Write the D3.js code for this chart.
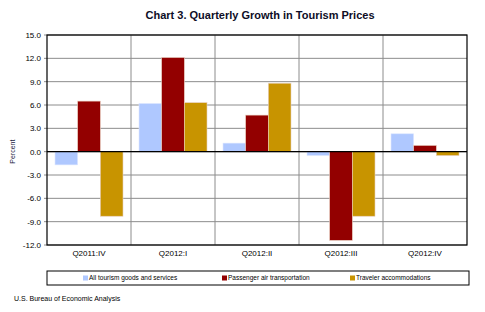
<!DOCTYPE html>
<html>
<head>
<meta charset="utf-8">
<script src="https://cdn.jsdelivr.net/npm/d3@7"></script>
<style>
	body { margin: 0; background: #fff; }
	text { font-family: "Liberation Sans", Arial, sans-serif; }
</style>
</head>
<body>
<div class="chart"></div>
<script>
const quarters = ['Q2011:IV', 'Q2012:I', 'Q2012:II', 'Q2012:III', 'Q2012:IV'];
const seriesNames = ['All tourism goods and services', 'Passenger air transportation', 'Traveler accommodations'];
const allTourism = [-1.7, 6.2, 1.1, -0.5, 2.3];
const airTransport = [6.5, 12.1, 4.7, -11.4, 0.8];
const accommodations = [-8.3, 6.3, 8.8, -8.3, -0.5];
const yTicks = [15, 12, 9, 6, 3, 0, -3, -6, -9, -12];
const colors = ['#afc8ff', '#930000', '#c89400'];

const width = 485;
const height = 312;
const plotLeft = 47, plotRight = 467, plotTop = 35, plotBottom = 245;

const svg = d3.select('.chart')
	.append('svg')
	.attr('width', width)
	.attr('height', height);

const x = d3.scaleBand().domain(quarters).range([plotLeft, plotRight]).paddingInner(0).paddingOuter(0);
const inner = d3.scaleBand().domain(d3.range(3)).range([8, 84 - 8]);
const y = d3.scaleLinear().domain([-12, 15]).range([plotBottom, plotTop]);

// grid
svg.append('g')
	.selectAll('line')
	.data(yTicks)
	.enter()
	.append('line')
	.attr('x1', plotLeft - 3)
	.attr('x2', plotRight)
	.attr('y1', d => y(d))
	.attr('y2', d => y(d))
	.style('stroke', '#8c8c8c')
	.style('stroke-width', 1);

svg.append('g')
	.selectAll('line')
	.data(quarters.slice(1))
	.enter()
	.append('line')
	.attr('x1', d => x(d))
	.attr('x2', d => x(d))
	.attr('y1', plotTop)
	.attr('y2', plotBottom)
	.style('stroke', '#8c8c8c')
	.style('stroke-width', 1);

// bars
const values = [allTourism, airTransport, accommodations];
values.forEach((vals, s) => {
	svg.append('g')
		.selectAll('rect')
		.data(vals)
		.enter()
		.append('rect')
		.attr('x', (d, i) => x(quarters[i]) + inner(s))
		.attr('y', d => Math.min(y(d), y(0)))
		.attr('width', inner.bandwidth())
		.attr('height', d => Math.abs(y(d) - y(0)))
		.style('fill', colors[s])
		.style('stroke', s === 0 ? '#dfe8ff' : '#e8d0c0')
		.style('stroke-width', 0.6);
});

// zero line and frame
svg.append('line')
	.attr('x1', plotLeft).attr('x2', plotRight)
	.attr('y1', y(0)).attr('y2', y(0))
	.style('stroke', '#000').style('stroke-width', 1.2);

svg.append('rect')
	.attr('x', plotLeft).attr('y', plotTop)
	.attr('width', plotRight - plotLeft).attr('height', plotBottom - plotTop)
	.style('fill', 'none').style('stroke', '#000').style('stroke-width', 1.2);

// y axis labels
svg.append('g')
	.selectAll('text')
	.data(yTicks)
	.enter()
	.append('text')
	.attr('x', 41)
	.attr('y', d => y(d) + 3)
	.text(d => d.toFixed(1))
	.style('font-size', '8px')
	.style('text-anchor', 'end')
	.style('fill', '#000');

svg.append('text')
	.attr('transform', 'translate(15,' + y(0) + ') rotate(-90)')
	.text('Percent')
	.style('font-size', '7px')
	.style('text-anchor', 'middle')
	.style('fill', '#1a1a40');

// category labels
svg.append('g')
	.selectAll('text')
	.data(quarters)
	.enter()
	.append('text')
	.attr('x', d => x(d) + x.bandwidth() / 2)
	.attr('y', 256)
	.text(d => d)
	.style('font-size', '8px')
	.style('text-anchor', 'middle')
	.style('fill', '#000');

// title
svg.append('text')
	.attr('x', 260)
	.attr('y', 19)
	.text('Chart 3. Quarterly Growth in Tourism Prices')
	.style('font-size', '11px')
	.style('font-weight', 'bold')
	.style('text-anchor', 'middle')
	.style('fill', '#0d0d26');

// legend
svg.append('rect')
	.attr('x', 47).attr('y', 271)
	.attr('width', 422).attr('height', 14)
	.style('fill', '#fff').style('stroke', '#000').style('stroke-width', 1);

const legendX = [84, 223, 351];
const legend = svg.append('g')
	.selectAll('g')
	.data(seriesNames)
	.enter()
	.append('g')
	.attr('transform', (d, i) => 'translate(' + legendX[i] + ',278)');
legend.append('rect')
	.attr('x', -1).attr('y', -2.5)
	.attr('width', 5).attr('height', 5)
	.style('fill', (d, i) => colors[i]);
legend.append('text')
	.attr('x', 5)
	.attr('y', 2.3)
	.text(d => d)
	.style('font-size', '6.5px')
	.style('fill', '#000');

// source
svg.append('text')
	.attr('x', 14)
	.attr('y', 301)
	.text('U.S. Bureau of Economic Analysis')
	.style('font-size', '7px')
	.style('fill', '#000');
</script>
</body>
</html>
